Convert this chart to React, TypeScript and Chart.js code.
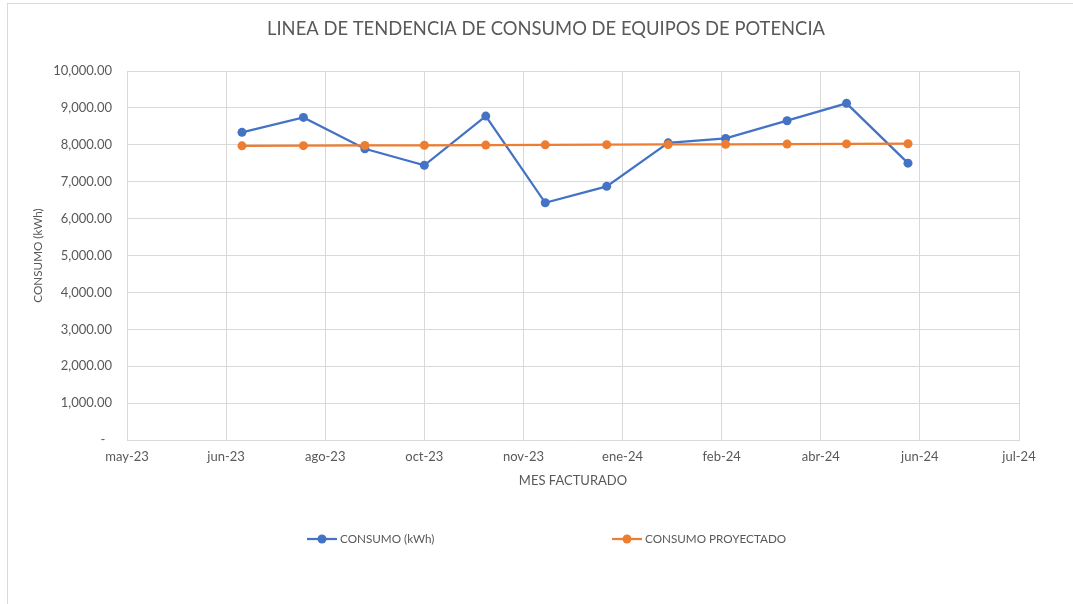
import React, { useEffect, useRef } from 'react';
import { Chart, registerables } from 'chart.js';

Chart.register(...registerables);

// ---- data ----
const chartTitle = 'LINEA DE TENDENCIA DE CONSUMO DE EQUIPOS DE POTENCIA';
const xAxisTitle = 'MES FACTURADO';
const yAxisTitle = 'CONSUMO (kWh)';
const billingDates = [
  '2023-07-01', '2023-08-01', '2023-09-01', '2023-10-01', '2023-11-01', '2023-12-01',
  '2024-01-01', '2024-02-01', '2024-03-01', '2024-04-01', '2024-05-01', '2024-06-01',
];
const consumoLabel = 'CONSUMO (kWh)';
const consumoKWh = [8340, 8745, 7895, 7445, 8780, 6430, 6875, 8055, 8175, 8655, 9125, 7505];
const proyectadoLabel = 'CONSUMO PROYECTADO';
const consumoProyectado = [7973, 7978, 7984, 7989, 7994, 8000, 8005, 8010, 8015, 8021, 8026, 8031];
const monthAbbr = ['ene', 'feb', 'mar', 'abr', 'may', 'jun', 'jul', 'ago', 'sep', 'oct', 'nov', 'dic'];
const xAxisStart = '2023-05-04';
const xAxisEnd = '2024-07-27';
const xStepDays = 50;
const yMin = 0;
const yMax = 10000;
const yStep = 1000;

// ---- helpers ----
const EXCEL_EPOCH = Date.UTC(1899, 11, 30);
const DAY = 86400000;
const toSerial = (iso: string) => Math.round((Date.parse(iso) - EXCEL_EPOCH) / DAY);
const serialLabel = (v: number) => {
  const d = new Date(EXCEL_EPOCH + v * DAY);
  return `${monthAbbr[d.getUTCMonth()]}-${String(d.getUTCFullYear()).slice(2)}`;
};
const fmtNum = (v: number) =>
  v === 0 ? '-  ' : v.toLocaleString('en-US', { minimumFractionDigits: 2, maximumFractionDigits: 2 });

const FONT = 'Lato';
const TEXT = '#595959';
const GRID = '#d9d9d9';
const BLUE = '#4472C4';
const ORANGE = '#ED7D31';

const frame = {
  id: 'excelFrame',
  beforeDraw(chart: any) {
    const { ctx } = chart;
    ctx.save();
    ctx.fillStyle = '#ffffff';
    ctx.fillRect(0, 0, chart.width, chart.height);
    ctx.strokeStyle = GRID;
    ctx.lineWidth = 1;
    ctx.strokeRect(7.5, 3.5, 1400, 900);
    ctx.restore();
  },
  afterLayout(chart: any) {
    if (chart.titleBlock) {
      chart.titleBlock.left = 7;
      chart.titleBlock.right = 1085;
    }
  },
};

const excelLegend = {
  id: 'excelLegend',
  afterDraw(chart: any) {
    const { ctx } = chart;
    const starts = [307, 612];
    const y = 539;
    ctx.save();
    ctx.font = `11.7px ${FONT}`;
    ctx.textBaseline = 'middle';
    ctx.textAlign = 'left';
    chart.data.datasets.forEach((ds: any, i: number) => {
      const x0 = starts[i];
      ctx.strokeStyle = ds.borderColor;
      ctx.lineWidth = 2.25;
      ctx.beginPath();
      ctx.moveTo(x0, y);
      ctx.lineTo(x0 + 30, y);
      ctx.stroke();
      ctx.fillStyle = ds.borderColor;
      ctx.beginPath();
      ctx.arc(x0 + 15, y, 4.5, 0, Math.PI * 2);
      ctx.fill();
      ctx.fillStyle = TEXT;
      ctx.fillText(ds.label, x0 + 33, y);
    });
    ctx.restore();
  },
};

export default function App() {
  const ref = useRef<HTMLCanvasElement>(null);
  useEffect(() => {
    if (!ref.current) return;
    const xs = billingDates.map(toSerial);
    const chart = new Chart(ref.current, {
      type: 'line',
      data: {
        datasets: [
          {
            label: consumoLabel,
            data: xs.map((x, i) => ({ x, y: consumoKWh[i] })),
            borderColor: BLUE,
            backgroundColor: BLUE,
            pointBackgroundColor: BLUE,
            pointBorderColor: BLUE,
            borderWidth: 2.25,
            pointRadius: 4.5,
            pointBorderWidth: 0,
            tension: 0,
            order: 1,
          },
          {
            label: proyectadoLabel,
            data: xs.map((x, i) => ({ x, y: consumoProyectado[i] })),
            borderColor: ORANGE,
            backgroundColor: ORANGE,
            pointBackgroundColor: ORANGE,
            pointBorderColor: ORANGE,
            borderWidth: 2.25,
            pointRadius: 4.5,
            pointBorderWidth: 0,
            tension: 0,
            order: 0,
          },
        ],
      },
      options: {
        responsive: false,
        animation: false,
        layout: { padding: { left: 20, right: 54, top: 8, bottom: 104 } },
        plugins: {
          legend: { display: false },
          tooltip: { enabled: false },
          title: {
            display: true,
            text: chartTitle,
            color: TEXT,
            font: { family: FONT, size: 18.4, weight: 'normal' },
            padding: { top: 10.5, bottom: 30.5 },
          },
        },
        scales: {
          x: {
            type: 'linear',
            min: toSerial(xAxisStart),
            max: toSerial(xAxisEnd),
            ticks: {
              stepSize: xStepDays,
              callback: (v: any) => serialLabel(Number(v)),
              color: TEXT,
              font: { family: FONT, size: 13 },
              padding: 9,
              maxRotation: 0,
              autoSkip: false,
            },
            grid: { color: GRID, drawTicks: false },
            border: { color: GRID },
            title: {
              display: true,
              text: xAxisTitle,
              color: TEXT,
              font: { family: FONT, size: 13 },
              padding: { top: 0, bottom: 11 },
            },
            afterFit: (s: any) => {
              s.height = 60;
            },
          },
          y: {
            min: yMin,
            max: yMax,
            ticks: {
              stepSize: yStep,
              callback: (v: any) => fmtNum(Number(v)),
              color: TEXT,
              font: { family: FONT, size: 13 },
              padding: 15,
            },
            grid: { color: GRID, drawTicks: false },
            border: { color: GRID },
            title: {
              display: true,
              text: yAxisTitle,
              color: TEXT,
              font: { family: FONT, size: 11.7 },
              padding: { top: 11, bottom: 0 },
            },
            afterFit: (s: any) => {
              s.width = 107;
            },
          },
        },
      },
      plugins: [frame, excelLegend],
    } as any);
    return () => chart.destroy();
  }, []);
  return (
    <div style={{ position: 'fixed', left: 0, top: 0, width: 1073, height: 604, background: '#fff' }}>
      <canvas ref={ref} width={1073} height={604} style={{ display: 'block' }} />
    </div>
  );
}
